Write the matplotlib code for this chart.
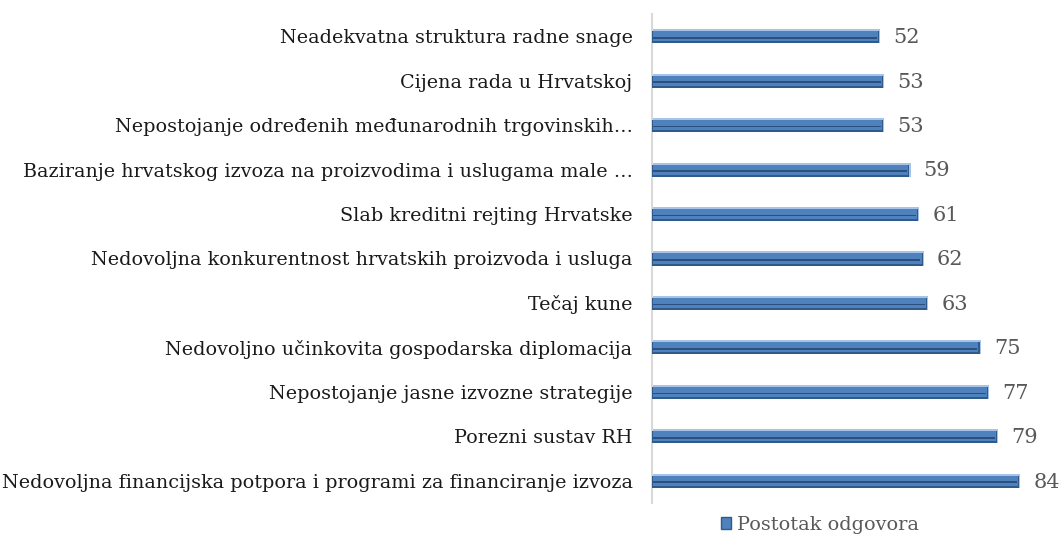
import matplotlib.pyplot as plt
from matplotlib.patches import Patch

# Razlozi i postotak odgovora (od vrha prema dnu)
razlozi = [
    'Neadekvatna struktura radne snage',
    'Cijena rada u Hrvatskoj',
    'Nepostojanje određenih međunarodnih trgovinskih…',
    'Baziranje hrvatskog izvoza na proizvodima i uslugama male …',
    'Slab kreditni rejting Hrvatske',
    'Nedovoljna konkurentnost hrvatskih proizvoda i usluga',
    'Tečaj kune',
    'Nedovoljno učinkovita gospodarska diplomacija',
    'Nepostojanje jasne izvozne strategije',
    'Porezni sustav RH',
    'Nedovoljna financijska potpora i programi za financiranje izvoza',
]
postotak = [52, 53, 53, 59, 61, 62, 63, 75, 77, 79, 84]

plt.rcParams['font.family'] = ['DejaVu Serif']

fig = plt.figure(figsize=(10.6, 5.37), dpi=100)
ax = fig.add_axes([652 / 1060, 1 - 503 / 537, 1 - 652 / 1060, (503 - 14) / 537])

y = list(range(len(razlozi)))
h = 0.315
px = 0.0225  # jedan piksel u jedinicama osi y
# slojevi trake: svijetli rub, tamni donji rub, osnovna ispuna, tamna linija
ax.barh(y, postotak, height=h, color='#a7c3e8', zorder=2)
ax.barh([v + px for v in y], [p - 0.25 for p in postotak], height=h - 2 * px, color='#2f5a8c', zorder=3)
ax.barh(y, [p - 0.75 for p in postotak], height=h - 4 * px, left=0.25, color='#4f81bd', zorder=4)
ax.barh([v + 1.5 * px for v in y], [p - 1.0 for p in postotak], height=1.6 * px, left=0.25,
        color='#2b4f7e', zorder=5)

for v, p in zip(y, postotak):
    ax.text(p + 3.0, v + 0.03, str(p), va='center', ha='left', fontsize=15, color='#595959')

ax.set_xlim(0, 93.1)
ax.set_ylim(len(razlozi) - 0.5, -0.5)
ax.set_yticks(y)
ax.set_yticklabels(razlozi, fontsize=13.8, color='#1a1a1a')
ax.tick_params(axis='y', length=0, pad=14)
ax.set_xticks([])
for s in ['top', 'right', 'bottom']:
    ax.spines[s].set_visible(False)
ax.spines['left'].set_color('#d9d9d9')
ax.spines['left'].set_linewidth(1.5)

fig.legend(handles=[Patch(facecolor='#4f81bd', edgecolor='#2f5a8c')], labels=['Postotak odgovora'],
           loc='center', bbox_to_anchor=(820 / 1060, 1 - 525 / 537), frameon=False,
           fontsize=13.9, labelcolor='#595959', handlelength=0.55, handleheight=0.55, handletextpad=0.3)

fig.savefig('out.png', dpi=100)
